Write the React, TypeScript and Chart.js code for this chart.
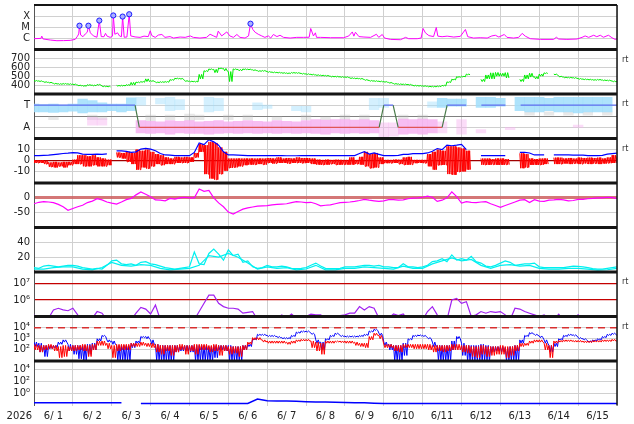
import { useEffect, useRef } from "react"
import { Chart, registerables } from "chart.js"

Chart.register(...registerables)

Chart.defaults.font.family = '"DejaVu Sans", sans-serif'
Chart.defaults.font.size = 10
Chart.defaults.color = "#222"

// x axis is in days since 2026-06-01 00:00
const yearLabel = "2026"
const dayLabels = ["6/ 1", "6/ 2", "6/ 3", "6/ 4", "6/ 5", "6/ 6", "6/ 7", "6/ 8", "6/ 9", "6/10", "6/11", "6/12", "6/13", "6/14", "6/15"]
const BIN3 = 0.125 // 3 hour bins
const BIN6 = 0.25 // 6 hour bins

// ---- panel tick values / labels ----
const xrayTicks = [1e-6, 1e-5, 1e-4]
const xrayTickLabels = ["C", "M", "X"]
const windTicks = [400, 500, 600, 700]
const windTickLabels = ["400", "500", "600", "700"]
const sectorTicks = [-1, 0, 1]
const sectorTickLabels = ["A", "", "T"]
const imfTicks = [-10, 0, 10]
const imfTickLabels = ["-10", "0", "10"]
const dstTicks = [-50, 0]
const dstTickLabels = ["-50", "0"]
const kpTicks = [20, 40]
const kpTickLabels = ["20", "40"]
const protonTicks = [1e6, 1e7]
const protonTickLabels = ["10⁶", "10⁷"]
const electronTicks = [1e2, 1e3, 1e4]
const electronTickLabels = ["10²", "10³", "10⁴"]
const fluenceTicks = [1, 1e2, 1e4]
const fluenceTickLabels = ["10⁰", "10²", "10⁴"]
const rtPanels = ["y2", "y3", "y4", "y7", "y8"]

// ---- X-ray flux: [day, log10 W/m2] ----
const xrayFlux = [
  [0, -6.03], [0.18, -6.0], [0.2, -5.8], [0.23, -6.05], [0.42, -6.15], [0.59, -6.21], [0.76, -6.2], [0.93, -6.18],
  [1.06, -6.09], [1.12, -5.8], [1.15, -5.6], [1.17, -4.86], [1.2, -5.7], [1.26, -5.85], [1.32, -5.6], [1.37, -5.45],
  [1.4, -4.86], [1.45, -5.5], [1.53, -5.78], [1.62, -5.9], [1.68, -4.4], [1.73, -5.84], [1.8, -5.85], [1.84, -5.55],
  [1.88, -5.8], [1.96, -5.91], [2.02, -5.8], [2.04, -3.94], [2.08, -5.63], [2.15, -5.5], [2.2, -5.78], [2.25, -5.85],
  [2.28, -4.04], [2.32, -5.9], [2.39, -5.88], [2.45, -3.83], [2.49, -5.78], [2.6, -5.87], [2.73, -5.91], [2.83, -5.8],
  [2.94, -5.84], [2.99, -5.32], [3.03, -5.75], [3.12, -5.91], [3.2, -5.7], [3.29, -5.65], [3.37, -5.91], [3.5, -5.84],
  [3.59, -5.97], [3.76, -5.88], [3.89, -5.91], [4.02, -5.78], [4.1, -5.91], [4.27, -5.97], [4.44, -5.91], [4.53, -5.63],
  [4.62, -5.78], [4.7, -5.91], [4.74, -5.35], [4.83, -5.78], [4.96, -5.42], [5.04, -5.78], [5.13, -5.91], [5.22, -5.65],
  [5.3, -5.91], [5.43, -5.97], [5.52, -5.78], [5.57, -4.68], [5.63, -5.2], [5.69, -5.45], [5.77, -5.63], [5.86, -5.78],
  [5.94, -5.91], [6.03, -5.78], [6.09, -5.97], [6.16, -5.65], [6.25, -5.84], [6.33, -5.72], [6.42, -5.91], [6.59, -5.97],
  [6.76, -5.91], [6.93, -5.91], [7.08, -5.9], [7.12, -5.11], [7.19, -5.78], [7.24, -5.5], [7.27, -5.91], [7.37, -5.91],
  [7.63, -5.94], [7.97, -5.94], [8.1, -5.78], [8.19, -5.42], [8.23, -5.8], [8.27, -5.45], [8.36, -5.84], [8.49, -5.88],
  [8.66, -5.91], [8.81, -5.63], [8.87, -5.91], [8.96, -5.65], [9.02, -5.97], [9.17, -6.09], [9.43, -6.12], [9.56, -5.91],
  [9.64, -6.03], [9.86, -6.03], [9.96, -5.97], [10.01, -5.11], [10.07, -5.5], [10.16, -5.75], [10.28, -5.84], [10.35, -5.02],
  [10.39, -5.8], [10.5, -5.85], [10.63, -5.8], [10.8, -5.88], [10.97, -5.82], [11.1, -5.2], [11.16, -5.85], [11.31, -5.97],
  [11.48, -5.94], [11.66, -5.97], [11.78, -5.78], [11.87, -5.72], [11.96, -5.88], [12.1, -5.65], [12.17, -5.91], [12.34, -5.97],
  [12.47, -5.91], [12.56, -5.55], [12.64, -5.8], [12.77, -6.03], [13.03, -6.09], [13.37, -6.09], [13.44, -5.9], [13.5, -6.06],
  [13.71, -6.09], [13.97, -6.06], [14.1, -5.91], [14.18, -5.78], [14.27, -5.91], [14.4, -5.72], [14.48, -5.85], [14.57, -5.72],
  [14.65, -5.9], [14.78, -5.72], [14.87, -5.94], [14.95, -6.09], [15, -6.05],
]
const flarePeaks = [[1.17, -4.86], [1.4, -4.86], [1.68, -4.4], [2.04, -3.94], [2.28, -4.04], [2.45, -3.83], [5.57, -4.68]]

// ---- solar wind speed km/s (3h: upper / lower edge) ----
const windHi = [
  452, 448, 438, 432, 420, 416, 418, 415,
  412, 400, 395, 405, 400, 408, 390, 388,
  null, 397, 398, 405, 430, 435, 440, 470,
  450, 435, 438, 440, 462, 478, 475, 450,
  445, 443, 520, 562, 582, 577, 592, 587,
  552, 582, 577, 582, 580, 572, 562, 564,
  552, 547, 544, 540, 537, 542, 540, 532,
  527, 522, 516, 512, 509, 500, 499, 495,
  493, 482, 479, 475, 462, 452, 449, 445,
  440, 430, 418, 414, 412, 408, 398, 396,
  393, 388, 387, 390, 398, 437, 466, 495,
  500, 524, null, null, 465, 514, 538, 542,
  533, 540, null, null, 465, 514, 533, 495,
  524, 538, null, 524, 500, 490, 488, 484,
  474, 469, 466, 462, 464, 458, 456, 446,
  440,
]
const windLo = [
  444, 440, 430, 424, 412, 408, 410, 407,
  404, 392, 387, 397, 392, 400, 382, 380,
  null, 389, 390, 397, 400, 427, 432, 440,
  442, 427, 430, 432, 454, 470, 467, 442,
  437, 435, 470, 552, 574, 540, 584, 560,
  440, 574, 560, 574, 572, 564, 554, 556,
  544, 539, 536, 532, 529, 534, 532, 524,
  519, 514, 508, 504, 501, 492, 491, 487,
  485, 474, 471, 467, 454, 444, 441, 437,
  432, 422, 410, 406, 404, 400, 390, 388,
  385, 380, 379, 382, 390, 429, 458, 487,
  492, 516, null, null, 440, 470, 470, 500,
  500, 480, null, null, 440, 470, 490, 470,
  500, 530, null, 516, 492, 482, 480, 476,
  466, 461, 458, 454, 456, 450, 448, 438,
  432,
]

// ---- IMF sector: T = 1, A = -1 ----
const sectorToward = [[0, 2.6], [9.0, 9.24], [10.63, 11.12], [11.51, 12.13], [12.52, 15]]
const sectorAway = [[2.71, 8.88], [9.37, 10.5]]
const sectorSwitch = [[2.6, 1, 2.71, -1], [8.88, -1, 9.0, 1], [9.24, 1, 9.37, -1], [10.5, -1, 10.63, 1]]
// scattered polarity samples: [day, low, high]
const towardDense = [
  [0, 0.4, 1.1], [0.25, 0.4, 1.05], [0.5, 0.35, 1.1], [0.75, 0.4, 1.0], [1, 0.45, 1.1], [1.25, 0.3, 1.55], [1.5, 0.4, 1.4],
  [1.75, 0.4, 1.2], [2, 0.5, 1.1], [2.25, 0.4, 1.1], [2.5, 0.5, 1.65], [10.5, 0.8, 1.6], [10.75, 0.9, 1.55], [11, 0.9, 1.55],
  [11.5, 0.8, 1.7], [11.75, 0.8, 1.7], [12, 0.9, 1.6], [12.5, 0.5, 1.7], [12.75, 0.4, 1.7], [13, 0.4, 1.7], [13.25, 0.5, 1.6],
  [13.5, 0.4, 1.7], [13.75, 0.4, 1.7], [14, 0.3, 1.7], [14.25, 0.4, 1.7], [14.5, 0.4, 1.7], [14.75, 0.4, 1.7],
]
const towardSparse = [
  [2.75, 1.0, 1.7], [3.25, 1.1, 1.6], [3.5, 0.5, 1.7], [3.75, 0.6, 1.5], [4.5, 0.4, 1.7], [4.75, 0.5, 1.6], [5.75, 0.6, 1.2],
  [6, 0.7, 1.0], [6.75, 0.5, 0.9], [7, 0.4, 0.9], [8.75, 0.6, 1.6], [9, 0.8, 1.6], [10.25, 0.8, 1.3],
]
const awayDense = [
  [2.75, -1.5, -0.4], [3, -1.55, -0.45], [3.25, -1.5, -0.5], [3.5, -1.6, -0.4], [3.75, -1.5, -0.45], [4, -1.55, -0.4],
  [4.25, -1.55, -0.5], [4.5, -1.6, -0.45], [4.75, -1.55, -0.4], [5, -1.5, -0.5], [5.25, -1.55, -0.45], [5.5, -1.5, -0.4],
  [5.75, -1.55, -0.45], [6, -1.5, -0.5], [6.25, -1.55, -0.4], [6.5, -1.5, -0.45], [6.75, -1.55, -0.5], [7, -1.5, -0.4],
  [7.25, -1.55, -0.3], [7.5, -1.6, -0.35], [7.75, -1.5, -0.3], [8, -1.55, -0.3], [8.25, -1.5, -0.35], [8.5, -1.55, -0.3],
  [8.75, -1.5, -0.4], [9.5, -1.6, -0.25], [9.75, -1.55, -0.3], [10, -1.6, -0.25], [10.25, -1.5, -0.3],
]
const awaySparse = [
  [1.5, -0.8, -0.1], [1.75, -0.8, -0.2], [9, -2, -0.6], [9.25, -1.8, -0.6], [10.5, -1.5, -0.5], [11, -1.6, -0.3],
  [11.5, -1.5, -1.2], [12.25, -1.2, -1.0], [14, -1.0, -0.8],
]
const sectorGray = [
  [0.5, -0.3, 0], [1.5, -0.3, 0.1], [1.75, -0.3, 0], [3, -0.4, 0.1], [3.5, -0.3, 0.1], [4, -0.4, 0.2], [4.25, -0.3, 0.1],
  [5, -0.3, 0.1], [5.5, -0.3, 0.1], [6.25, -0.3, 0], [7, -0.3, 0.1], [7.5, -0.3, 0], [8, -0.3, 0.1], [8.5, -0.3, 0.1],
  [9.5, -0.3, 0.1], [10, -0.3, 0.1], [12.75, 0.1, 0.4], [13.25, 0.1, 0.4], [13.75, 0.1, 0.4], [14.25, 0.1, 0.4], [14.75, 0.1, 0.4],
]

// ---- IMF nT (3h) ----
const bt = [
  4.6, 4.6, 4.8, 5.0, 5.5, 6.0, 6.5, 6.8,
  7.3, 7.0, 6.0, 5.8, 5.8, 6.0, 5.8, 6.2,
  null, 8.8, 8.8, 8.5, 7.6, 8.0, 10.5, 11.1,
  10.5, 9.0, 6.5, 5.2, 5.0, 4.6, 4.6, 4.6,
  4.6, 7.5, 16, 14.5, 19, 17, 14, 8,
  5.2, 5.2, 5.0, 4.8, 4.6, 4.6, 4.6, 4.6,
  4.6, 4.6, 4.6, 4.6, 4.5, 4.5, 4.5, 4.6,
  4.6, 4.6, 4.6, 4.6, 4.6, 4.6, 4.6, 4.6,
  4.6, 4.6, 4.6, 6.5, 8.2, 6.0, 7.0, 5.8,
  4.6, 4.6, 4.6, 4.8, 5.8, 5.8, 6.4, 6.4,
  6.4, 7.0, 8.5, 11, 10, 14, 13.5, 14,
  14.7, 10, null, null, 4.6, 4.6, 4.6, 4.6,
  4.6, 4.6, null, null, 7.6, 7.6, 7.0, 5.2,
  5.2, 5.2, null, 5.2, 5.2, 5.2, 5.2, 5.0,
  5.0, 5.0, 4.6, 4.6, 4.6, 4.8, 6.0, 6.4,
  6.8,
]
const bzHi = [
  0.5, 0.5, 0, -1.5, -1, -1.5, -1, -1,
  1, 5, 5, 4, 5, 3, 2, 1,
  null, 7.5, 7, 8, 7, 10, 9, 10,
  8, 6, 5, 3, 2, 3.5, 3, 3.5,
  3, 7, 15, 14, 17, 16, 12, 8,
  2, 2, 2, 2, 2, 2, 2, 2,
  2.5, 2, 3, 2, 2.5, 2, 3, 2.5,
  2.5, 2, 1, 0.8, 1, 0.8, 1, 0.8,
  0.8, 3, 0.8, 3.5, 8, 6, 7, 3,
  0.8, 0.8, 1, 1, 3, 3.5, 0.8, 0.8,
  0.8, 6, 8, 10, 9, 13, 13, 12,
  11, 9, null, null, 2, 2, 1.5, 2,
  2, 1.5, null, null, 6.7, 6, 2, 1.5,
  2, 2, null, 2.8, 2.8, 2, 2.5, 2,
  2.8, 2.5, 2.8, 2.5, 2.8, 2, 3, 5,
  4,
]
const bzLo = [
  -2, -2, -3, -5.5, -6, -5, -6, -4,
  -3, -3, -5, -5, -4, -5, -5, -4,
  null, 3, 2, -1, -3, -8, -6, -7,
  -5, -3, -4, -3, -3, -2, -2, -2,
  -1, 3, 8, -12, -16, -17, -12, -9,
  -6.5, -6, -5, -4, -3.5, -3.5, -3, -3.5,
  -2, -2.5, -2, -2, -2.5, -2, -2, -2.2,
  -2, -3, -3.5, -3.7, -3.5, -3, -3.7, -3.5,
  -3.5, -3.5, -3, -3.5, -5, -6.7, -6, -3,
  -2.2, -2.2, -2, -3, -3.7, -3.5, -2.2, -2,
  -2.2, -5, -8, -4, -3.7, -12, -12.6, -10,
  -9.6, -8, null, null, -3.7, -3.7, -3.5, -3.7,
  -3.7, -3.5, null, null, -6.7, -6, -3.7, -3.7,
  -3.7, -3, null, -3, -3, -2.5, -3, -2.5,
  -3, -2.5, -3, -2.5, -3, -2.5, -2.2, -2,
  -2,
]

// ---- Dst nT (3h) ----
const dst = [
  -20, -15, -13, -14, -16, -22, -30, -42,
  -36, -30, -25, -16, -11, -3, -7, -14,
  -18, -21, -14, -6, -2, 10, 20, 12,
  4, -7, -8, -10, -2, -4, 0, 2,
  0, 0, 30, 22, 25, 0, -17, -30,
  -48, -55, -46, -38, -34, -31, -28, -27,
  -26, -24, -22, -21, -20, -16, -13, -14,
  -16, -15, -20, -27, -25, -24, -20, -16,
  -15, -14, -12, -9, -5, -8, -10, -12,
  -10, -6, -6, -8, -7, -3, -1, 0,
  2, 6, 2, -12, -8, 0, 20, 4,
  -18, -13, -15, -16, -14, -13, -20, -26,
  -32, -26, -20, -14, -8, -6, -16, -6,
  -11, -12, -8, -7, -5, -7, -10, -9,
  -5, -5, -3, -2, 0, 0, 2, 1,
  -3,
]

// ---- cyan index, two traces ----
const kpA = [
  6, 5, 8, 9, 8, 7, 8, 9,
  9, 8, 6, 5, 4, 5, 4, 9,
  15, 16, 11, 10, 11, 9, 13, 14,
  11, 10, 8, 6, 5, 4, 5, 6,
  7, 27, 11, 10, 25, 31, 24, 16,
  30, 22, 24, 13, 15, 7, 5, 6,
  9, 7, 7, 8, 7, 5, 4.5, 5,
  6, 9, 12, 8, 5, 4.5, 4.5, 5,
  7, 7, 7, 8, 9, 9, 8, 9,
  7, 7, 6, 6, 11, 7, 7, 6,
  7, 9, 14, 15, 18, 14, 23, 16,
  18, 16, 21, 14, 12, 8, 7, 9,
  12, 15, 13, 9, 10, 11, 11, 12,
  7, 6, 6, 6, 6, 6, 7, 8,
  7.6, 7, 6, 4.5, 4, 4, 5, 6,
  7,
]
const kpB = [
  4, 4, 6, 7, 7, 4, 3, 6, 13, 9, 8, 10, 9, 5, 3, 4,
  5, 9, 22, 20, 25, 20, 12, 4, 7, 5, 6, 3, 4, 9, 3, 3,
  5, 5, 7, 6, 5, 4, 8, 5, 5, 11, 15, 19, 15, 17, 9, 5,
  9, 10, 8, 9, 5, 4, 4, 5, 5, 4, 2.5, 3, 5,
]

// ---- purple flux, log10 (3h) ----
const protonLog = [
  5.1, 4.8, 4.8, 4.9, 5.4, 5.5, 5.4, 5.35,
  5.5, 5.1, 4.8, 4.8, 4.9, 5.3, 5.2, 4.8,
  4.8, 5.05, 4.8, 4.8, 4.8, 5.2, 5.55, 5.45,
  5.15, 5.7, 4.8, 4.8, 5.05, 4.8, 4.8, 4.8,
  4.8, 4.8, 5.3, 5.8, 6.3, 6.3, 5.8, 5.6,
  5.5, 5.5, 5.45, 5.2, 5.25, 5.3, 4.8, 4.8,
  4.8, 4.8, 4.9, 5.1, 4.9, 5.15, 4.9, 4.8,
  5.0, 5.14, 5.1, 5.1, 4.9, 4.9, 5.0, 5.05,
  5.1, 5.2, 5.2, 5.6, 5.4, 5.6, 5.5, 4.9,
  4.8, 4.9, 5.15, 5.05, 5.15, 4.8, 5.0, 4.8,
  4.8, 5.3, 5.6, 5.1, 4.8, 4.8, 6.0, 6.1,
  5.8, 5.9, 5.0, 5.1, 5.3, 5.2, 5.3, 5.25,
  5.3, 5.1, 4.8, 5.5, 5.45, 5.3, 5.2, 5.1,
  5.0, 5.1, 4.9, 4.8, 5.14, 4.8, 4.8, 4.9,
  5.1, 4.8, 4.8, 4.8, 4.8, 4.8, 4.8, 4.8,
  4.8,
]
const protonAlerts = [1e6, 1e7]

// ---- electron flux, log10 (3h: upper / lower edge) ----
const electronAlert = 1e4
const eBlueHi = [
  2.7, 2.6, 2.4, 2.4, 2.4, 2.7, 2.9, 2.5,
  2.4, 2.4, 2.4, 2.5, 2.6, 3.0, 3.3, 2.9,
  2.8, 2.4, 2.4, 2.4, 2.6, 2.8, 3.2, 3.2,
  2.9, 2.5, 2.4, 2.4, 2.4, 2.4, 2.3, 2.4,
  2.4, 2.4, 2.4, 2.4, 2.3, 2.4, 2.4, 2.4,
  2.4, 2.3, 2.3, 2.4, 2.5, 3.0, 3.4, 3.4,
  3.3, 3.3, 3.2, 3.1, 3.1, 3.3, 3.6, 3.7,
  3.7, 3.5, 2.9, 2.7, 3.0, 3.3, 3.5, 3.3,
  3.25, 3.25, 3.25, 3.3, 3.4, 3.7, 3.85, 3.5,
  2.7, 2.5, 2.4, 2.4, 2.6, 3.0, 3.3, 3.35,
  3.3, 3.1, 2.7, 2.4, 2.4, 2.4, 2.8, 3.2,
  2.6, 2.4, 2.4, 2.4, 2.5, 2.4, 2.3, 2.3,
  2.3, 2.2, 2.3, 2.4, 2.9, 3.3, 3.55, 3.4,
  3.25, 2.9, 2.4, 2.6, 3.0, 3.3, 3.4, 3.35,
  3.1, 3.0, 2.8, 2.9, 3.0, 3.2, 3.4, 3.5,
  3.3,
]
const eBlueLo = [
  2.3, 1.8, 1.4, 2.1, 2.2, 2.5, 2.7, 1.9,
  1.6, 1.2, 1.0, 1.6, 2.0, 2.8, 3.2, 2.7,
  2.5, 1.0, 1.0, 1.0, 2.2, 2.6, 3.1, 3.0,
  2.5, 1.0, 1.0, 1.0, 1.0, 1.8, 1.9, 1.9,
  1.8, 1.0, 1.0, 1.0, 1.0, 1.3, 2.0, 1.9,
  1.0, 1.0, 1.0, 2.0, 2.3, 2.9, 3.3, 3.3,
  3.2, 3.2, 3.1, 3.0, 3.0, 3.2, 3.5, 3.6,
  3.6, 3.4, 2.6, 2.0, 2.9, 3.2, 3.4, 3.2,
  3.15, 3.15, 3.15, 3.2, 3.3, 3.6, 3.75, 3.3,
  2.4, 2.0, 1.0, 1.0, 1.5, 2.9, 3.2, 3.25,
  3.2, 3.0, 2.3, 1.0, 1.0, 1.0, 2.0, 3.0,
  1.5, 1.0, 1.0, 1.0, 1.0, 1.0, 1.8, 1.9,
  1.8, 1.0, 1.0, 1.0, 2.6, 3.2, 3.45, 3.3,
  3.1, 2.6, 1.8, 2.3, 2.9, 3.2, 3.3, 3.25,
  3.0, 2.9, 2.7, 2.8, 2.9, 3.1, 3.3, 3.4,
  3.2,
]
const eRedHi = [
  2.5, 2.4, 2.4, 2.5, 2.4, 2.3, 2.4, 2.3,
  2.4, 2.4, 2.5, 2.4, 2.5, 2.8, 2.8, 2.6,
  2.4, 2.5, 2.5, 2.5, 2.6, 2.6, 2.7, 2.6,
  2.6, 2.5, 2.4, 2.4, 2.4, 2.4, 2.5, 2.4,
  2.4, 2.5, 2.5, 2.5, 2.4, 2.5, 2.4, 2.4,
  2.3, 2.3, 2.3, 2.4, 2.7, 3.1, 3.1, 2.9,
  2.8, 2.8, 2.8, 2.8, 2.7, 2.8, 2.9, 2.95,
  2.95, 2.8, 2.7, 2.6, 2.8, 2.8, 2.8, 2.8,
  2.8, 2.8, 2.7, 2.6, 2.6, 3.2, 3.5, 3.3,
  2.5, 2.5, 2.4, 2.4, 2.5, 2.5, 2.5, 2.5,
  2.5, 2.5, 2.4, 2.4, 2.4, 2.4, 2.5, 2.5,
  2.4, 2.4, 2.3, 2.3, 2.4, 2.3, 2.3, 2.3,
  2.4, 2.3, 2.3, 2.4, 2.6, 2.6, 2.8, 2.9,
  2.9, 2.6, 2.4, 2.8, 2.85, 2.9, 2.9, 2.85,
  2.85, 2.8, 2.8, 2.85, 2.85, 2.9, 2.9, 2.95,
  2.8,
]
const eRedLo = [
  2.0, 1.8, 2.0, 2.1, 1.9, 1.3, 1.4, 1.9,
  1.9, 2.0, 1.9, 1.4, 2.0, 2.4, 2.4, 2.1,
  1.3, 1.9, 2.0, 2.0, 2.3, 2.3, 2.4, 2.3,
  2.2, 1.8, 1.6, 1.9, 1.5, 1.8, 2.0, 1.6,
  1.9, 1.6, 2.0, 2.0, 1.8, 1.9, 1.5, 1.9,
  1.6, 1.7, 1.4, 2.0, 2.5, 2.9, 2.9, 2.7,
  2.6, 2.6, 2.6, 2.6, 2.5, 2.6, 2.75, 2.8,
  2.8, 2.2, 1.9, 1.6, 2.6, 2.6, 2.7, 2.65,
  2.6, 2.6, 2.4, 2.3, 2.2, 2.9, 3.3, 3.0,
  2.2, 2.2, 1.9, 1.8, 2.2, 2.2, 2.1, 2.1,
  2.1, 2.0, 1.8, 1.9, 1.8, 1.9, 2.0, 2.0,
  1.8, 1.7, 1.4, 1.3, 1.6, 1.4, 1.5, 1.6,
  1.6, 1.3, 1.5, 1.9, 2.3, 2.4, 2.6, 2.7,
  2.7, 2.0, 1.3, 2.6, 2.7, 2.75, 2.75, 2.7,
  2.7, 2.65, 2.65, 2.7, 2.7, 2.75, 2.75, 2.8,
  2.6,
]

// ---- bottom panel, log10 (6h) ----
const fluenceLog = [
  -1.55, -1.55, -1.55, -1.55, -1.55, -1.55, -1.55, -1.55, -1.55, -1.55, null,
  -1.65, -1.65, -1.65, -1.65, -1.65, -1.65, -1.65, -1.65, -1.65, -1.65, -1.65, -1.65,
  -0.9, -1.2, -1.25, -1.25, -1.3, -1.35, -1.4, -1.4, -1.45, -1.5, -1.55, -1.55, -1.6,
  -1.65, -1.65, -1.65, -1.65, -1.65, -1.65, -1.65, -1.65, -1.65, -1.65, -1.65, -1.65, -1.65,
  -1.65, -1.65, -1.65, -1.65, -1.65, -1.65, -1.65, -1.65, -1.65, -1.65, -1.65, -1.65,
]

// ---- helpers ----
const pow10 = (v: number) => 10 ** v
const same = (v: number) => v
const series = (vals: (number | null)[], step: number, f = same) =>
  vals.map((v, i) => ({ x: i * step, y: v == null ? null : f(v) }))
// noisy trace drawn between the read upper and lower edge of each bin
const zigzag = (hi: (number | null)[], lo: (number | null)[], step: number, f = same, k = 1) =>
  hi.flatMap((h, i) => {
    const l = lo[i]
    if (h == null || l == null) return [{ x: i * step, y: null }]
    const pts: { x: number; y: number }[] = []
    for (let j = 0; j < k; j++) {
      pts.push({ x: (i + j / k) * step, y: f(h) }, { x: (i + (j + 0.5) / k) * step, y: f(l) })
    }
    return pts
  })
const floating = (rows: number[][]) => rows.map(([x, lo, hi]) => ({ x, y: [lo, hi] }))
const segments = (rows: number[][], level: number) =>
  rows.flatMap(([a, b]) => [{ x: a, y: level }, { x: b, y: level }, { x: b, y: null }])
const switches = (rows: number[][]) =>
  rows.flatMap(([x0, v0, x1, v1]) => [{ x: x0, y: v0 }, { x: x1, y: v1 }, { x: x1, y: null }])

const line = (data: any[], color: string, yAxisID: string, width = 1, extra: any = {}) => ({
  type: "line",
  data,
  yAxisID,
  xAxisID: "x",
  borderColor: color,
  backgroundColor: color,
  borderWidth: width,
  pointRadius: 0,
  ...extra,
})
const band = (rows: number[][], color: string) => ({
  type: "bar",
  data: floating(rows),
  yAxisID: "y3",
  xAxisID: "x",
  backgroundColor: color,
  borderWidth: 0,
  grouped: false,
  barPercentage: 1,
  categoryPercentage: 1,
})

const GRID = "#d0d0d0"
function panelAxis(
  index: number,
  type: string,
  min: number,
  max: number,
  values: number[],
  labels: string[],
  gridColor: (v: number) => string = () => GRID,
  gridWidth: (v: number) => number = () => 1,
) {
  return {
    type,
    min,
    max,
    bounds: "data",
    position: "left",
    stack: "panels",
    stackWeight: 1,
    weight: 20 - index,
    offset: false,
    afterBuildTicks: (s: any) => {
      s.ticks = values.map((v) => ({ value: v }))
    },
    afterFit: (s: any) => {
      s.width = 34
      s.paddingTop = 0
      s.paddingBottom = 0
    },
    border: { display: true, color: "#555", width: 1 },
    grid: {
      drawTicks: false,
      color: (c: any) => gridColor(c.tick ? c.tick.value : NaN),
      lineWidth: (c: any) => gridWidth(c.tick ? c.tick.value : NaN),
    },
    ticks: {
      autoSkip: false,
      padding: 4,
      color: "#222",
      font: { size: 10 },
      callback: (v: number) => labels[values.indexOf(v)] ?? "",
    },
  }
}

const panelIds = ["y1", "y2", "y3", "y4", "y5", "y6", "y7", "y8", "y9"]

const framePlugin = {
  id: "panelFrame",
  beforeDatasetDraw(chart: any, args: any) {
    const ys = args.meta.yScale
    const a = chart.chartArea
    const ctx = chart.ctx
    ctx.save()
    ctx.beginPath()
    ctx.rect(a.left, ys.top, a.right - a.left, ys.bottom - ys.top)
    ctx.clip()
  },
  afterDatasetDraw(chart: any) {
    chart.ctx.restore()
  },
  afterDatasetsDraw(chart: any) {
    const { ctx, chartArea: a, scales } = chart
    ctx.save()
    ctx.strokeStyle = "#151515"
    panelIds.forEach((id, i) => {
      const s = scales[id]
      if (i === 0) {
        ctx.lineWidth = 2
        ctx.beginPath()
        ctx.moveTo(a.left, s.top)
        ctx.lineTo(a.right, s.top)
        ctx.stroke()
      }
      if (i < panelIds.length - 1) {
        ctx.lineWidth = 3
        ctx.beginPath()
        ctx.moveTo(a.left, s.bottom)
        ctx.lineTo(a.right, s.bottom)
        ctx.stroke()
      }
    })
    ctx.lineWidth = 1.5
    ctx.beginPath()
    ctx.moveTo(a.right, a.top)
    ctx.lineTo(a.right, a.bottom)
    ctx.stroke()

    ctx.fillStyle = "#333"
    ctx.font = '8px "DejaVu Sans", sans-serif'
    ctx.textAlign = "left"
    ctx.textBaseline = "middle"
    rtPanels.forEach((id) => ctx.fillText("rt", a.right + 5, scales[id].top + 10))

    ctx.fillStyle = "#222"
    ctx.font = '10px "DejaVu Sans", sans-serif'
    ctx.textAlign = "right"
    ctx.fillText(yearLabel, a.left - 2, scales.x.top + 11)
    ctx.restore()
  },
}

const xTickValues = Array.from({ length: 31 }, (_, i) => i * 0.5)

export default function App() {
  const canvasRef = useRef<HTMLCanvasElement>(null)
  const chartRef = useRef<Chart | null>(null)

  useEffect(() => {
    if (!canvasRef.current) return
    if (chartRef.current) chartRef.current.destroy()
    const ctx = canvasRef.current.getContext("2d")
    if (!ctx) return

    const datasets: any[] = [
      // panel 1: X-ray
      line(
        flarePeaks.map(([x, v]) => ({ x, y: pow10(v) })),
        "#1a1aff",
        "y1",
        1,
        { showLine: false, pointRadius: 2.6, pointBorderWidth: 1, pointBackgroundColor: "#a9b0ff", pointBorderColor: "#1a1aff" },
      ),
      line(xrayFlux.map(([x, v]) => ({ x, y: pow10(v) })), "#ff00ff", "y1"),
      // panel 2: solar wind speed
      line(zigzag(windHi, windLo, BIN3, same, 2), "#00ee00", "y2"),
      // panel 3: sector
      line(segments(sectorToward, 1), "#5e6ef0", "y3", 1.2),
      line(segments(sectorAway, -1), "#e05555", "y3", 1.2),
      line(switches(sectorSwitch), "#4a7a4a", "y3", 1.2),
      band(towardDense, "rgba(160, 222, 252, 0.85)"),
      band(towardSparse, "rgba(160, 222, 252, 0.45)"),
      band(awayDense, "rgba(246, 178, 240, 0.85)"),
      band(awaySparse, "rgba(246, 178, 240, 0.45)"),
      band(sectorGray, "rgba(190, 190, 190, 0.35)"),
      // panel 4: IMF
      line(series(bt, BIN3), "#0000ff", "y4", 1.2),
      line(zigzag(bzHi, bzLo, BIN3, same, 3), "#ff0000", "y4"),
      // panel 5: Dst
      line(series(dst, BIN3), "#ff00ff", "y5", 1.2),
      // panel 6
      line(series(kpA, BIN3), "#00f0f0", "y6", 1.2),
      line(series(kpB, BIN6), "#00f0f0", "y6", 1.2),
      // panel 7
      line(series(protonLog, BIN3, pow10), "#a020f0", "y7", 1.2),
      // panel 8
      line(
        [{ x: 0, y: electronAlert }, { x: 15, y: electronAlert }],
        "#d83030",
        "y8",
        1.5,
        { borderDash: [7, 5] },
      ),
      line(zigzag(eRedHi, eRedLo, BIN3, pow10, 2), "#ff0000", "y8"),
      line(zigzag(eBlueHi, eBlueLo, BIN3, pow10, 2), "#0000ff", "y8"),
      // panel 9
      line(series(fluenceLog, BIN6, pow10), "#0000ff", "y9", 1.5),
    ]

    chartRef.current = new Chart(ctx, {
      type: "line",
      data: { datasets },
      plugins: [framePlugin],
      options: {
        responsive: false,
        animation: false,
        events: [],
        layout: { padding: { top: 3, right: 17, left: 0, bottom: 0 } },
        plugins: { legend: { display: false }, tooltip: { enabled: false } },
        scales: {
          x: {
            type: "linear",
            position: "bottom",
            min: 0,
            max: 15,
            bounds: "data",
            offset: false,
            afterBuildTicks: (s: any) => {
              s.ticks = xTickValues.map((v) => ({ value: v }))
            },
            afterFit: (s: any) => {
              s.height = 18.5
              s.paddingLeft = 0
              s.paddingRight = 0
            },
            border: { display: false },
            grid: {
              offset: false,
              drawTicks: false,
              color: (c: any) => (c.tick && Number.isInteger(c.tick.value) ? GRID : "rgba(0,0,0,0)"),
            },
            ticks: {
              autoSkip: false,
              maxRotation: 0,
              padding: 5,
              color: "#222",
              font: { size: 10 },
              callback: (v: number) => (v % 1 === 0.5 ? dayLabels[Math.floor(v)] : ""),
            },
          },
          y1: panelAxis(1, "logarithmic", 1e-7, 1e-3, xrayTicks, xrayTickLabels),
          y2: panelAxis(2, "linear", 300, 800, windTicks, windTickLabels),
          y3: panelAxis(3, "linear", -2, 2, sectorTicks, sectorTickLabels, (v) => (v === 0 ? "#808080" : GRID)),
          y4: panelAxis(4, "linear", -20, 20, imfTicks, imfTickLabels, (v) => (v === 0 ? "#a00000" : GRID), (v) =>
            v === 0 ? 1.3 : 1,
          ),
          y5: panelAxis(5, "linear", -100, 50, dstTicks, dstTickLabels, (v) => (v === 0 ? "rgba(205, 95, 95, 0.85)" : GRID), (v) =>
            v === 0 ? 3 : 1,
          ),
          y6: panelAxis(6, "linear", 0, 60, kpTicks, kpTickLabels),
          y7: panelAxis(7, "logarithmic", 1e5, 10 ** 7.7, protonTicks, protonTickLabels, (v) =>
            protonAlerts.includes(v) ? "#c40000" : GRID,
            () => 1.3,
          ),
          y8: panelAxis(8, "logarithmic", 10, 1e5, electronTicks, electronTickLabels),
          y9: panelAxis(9, "logarithmic", 1e-2, 10 ** 5.5, fluenceTicks, fluenceTickLabels),
        },
      } as any,
    })

    return () => {
      if (chartRef.current) {
        chartRef.current.destroy()
        chartRef.current = null
      }
    }
  }, [])

  return (
    <div style={{ position: "fixed", left: 0, top: 0, width: 634, height: 424, background: "#fff" }}>
      <canvas ref={canvasRef} width={634} height={424} style={{ display: "block" }} />
    </div>
  )
}
